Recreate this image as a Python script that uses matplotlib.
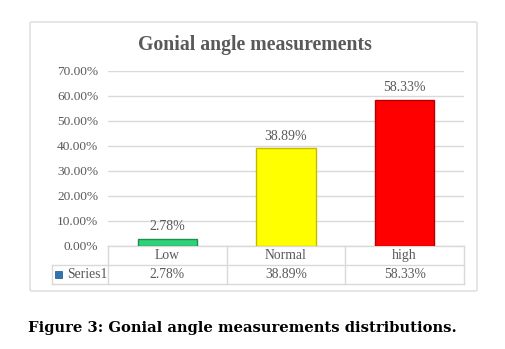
import matplotlib.pyplot as plt
from matplotlib.patches import FancyBboxPatch, Rectangle
from matplotlib.transforms import blended_transform_factory

categories = ["Low", "Normal", "high"]
values = [2.78, 38.89, 58.33]
bar_colors = ["#2fd27a", "#ffff00", "#ff0000"]
edge_colors = ["#1e8f4e", "#c9b800", "#b30000"]
yticks = [0, 10, 20, 30, 40, 50, 60, 70]
series_name = "Series1"

W, H = 505, 349
fig = plt.figure(figsize=(W / 100, H / 100), dpi=100)
fig.patch.set_facecolor("white")

# outer chart frame
frame = FancyBboxPatch((30 / W, 1 - 291 / H), 447 / W, 269 / H,
                       boxstyle="round,pad=0,rounding_size=0.004",
                       transform=fig.transFigure, facecolor="none",
                       edgecolor="#e0e0e0", linewidth=1.2, zorder=-1)
fig.patches.append(frame)

# plot area in pixels
left, right, top, bottom = 108, 464, 70.7, 245.7
ax = fig.add_axes([left / W, 1 - bottom / H, (right - left) / W, (bottom - top) / H])
ax.set_facecolor("none")

x = list(range(len(categories)))
ax.bar(x, values, width=0.5, color=bar_colors, edgecolor=edge_colors, linewidth=1.0, zorder=3)
for xi, v in zip(x, values):
    ax.text(xi, v + 2.3, f"{v:.2f}%", ha="center", va="bottom", fontsize=10,
            color="#595959", family="Liberation Serif")

ax.set_xlim(-0.5, len(categories) - 0.5)
ax.set_ylim(0, 70)
ax.set_yticks(yticks)
ax.set_yticklabels([f"{t:.2f}%" for t in yticks], family="Liberation Serif",
                   fontsize=9.6, color="#595959")
ax.set_xticks([])
ax.tick_params(axis="y", length=0, pad=7)
ax.grid(axis="y", color="#d9d9d9", linewidth=1, zorder=0)
for s in ax.spines.values():
    s.set_visible(False)

# data table under the plot (x in data units, y in axes units)
tr = blended_transform_factory(ax.transData, ax.transAxes)
row1 = -(265 - bottom) / (bottom - top)
row2 = -(284 - bottom) / (bottom - top)
label_left = -0.5 - 56 / 119
line_kw = dict(color="#d9d9d9", linewidth=1, transform=tr, clip_on=False)
ax.plot([-0.5, len(x) - 0.5], [0, 0], **line_kw)
ax.plot([label_left, len(x) - 0.5], [row1, row1], **line_kw)
ax.plot([label_left, len(x) - 0.5], [row2, row2], **line_kw)
ax.plot([label_left, label_left], [row1, row2], **line_kw)
for b in range(len(x) + 1):
    ax.plot([b - 0.5, b - 0.5], [0, row2], **line_kw)
for xi, cat, v in zip(x, categories, values):
    ax.text(xi, row1 / 2, cat, ha="center", va="center", transform=tr, fontsize=9.8,
            color="#595959", family="Liberation Serif")
    ax.text(xi, (row1 + row2) / 2, f"{v:.2f}%", ha="center", va="center", transform=tr,
            fontsize=9.8, color="#595959", family="Liberation Serif")
ax.text(label_left + 0.13, (row1 + row2) / 2, series_name, ha="left", va="center",
        transform=tr, fontsize=9.8, color="#595959", family="Liberation Serif")

# legend key in the row label
fig.patches.append(Rectangle((55 / W, 1 - 278 / H), 7 / W, 7 / H, transform=fig.transFigure,
                             facecolor="#2e75b6", edgecolor="#1f4e79", linewidth=0.5))

fig.text(255 / W, 1 - 45 / H, "Gonial angle measurements", ha="center", va="center",
         fontsize=14.2, fontweight="bold", color="#595959", family="Liberation Serif")

fig.text(28 / W, 1 - 328 / H, "Figure 3: Gonial angle measurements distributions.",
         ha="left", va="center", fontsize=10.6, fontweight="bold", color="black",
         family="DejaVu Serif")

fig.savefig("out.png", dpi=100)
